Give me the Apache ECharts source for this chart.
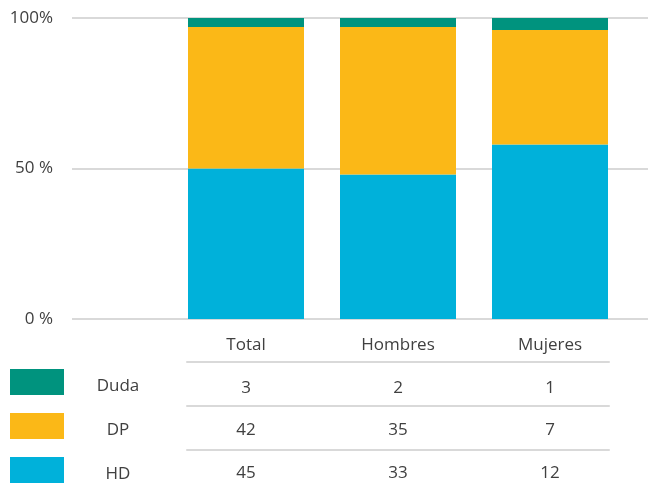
<!DOCTYPE html>
<html>
<head>
<meta charset="utf-8">
<script src="https://cdn.jsdelivr.net/npm/echarts@6/dist/echarts.min.js"></script>
<style>
  html, body { margin: 0; padding: 0; background: #fff; }
  #main { width: 648px; height: 490px; }
</style>
</head>
<body>
<div id="main"></div>
<script>
// categories and values
const cats = ['Total', 'Hombres', 'Mujeres'];
const seriesNames = ['Duda', 'DP', 'HD'];
// share of each group (%)
const hdPct = [50, 48, 58];
const dpPct = [47, 49, 38];
const dudaPct = [3, 3, 4];
// counts shown in the table under the bars
const dudaN = [3, 2, 1];
const dpN = [42, 35, 7];
const hdN = [45, 33, 12];
const yTicks = {0: '0 %', 50: '50 %', 100: '100%'};

const colors = {Duda: '#00937E', DP: '#FBB817', HD: '#00B1DA'};
const txt = '#404040';
const lineCol = '#D9D9D9';
const font = 'Open Sans';

const chart = echarts.init(document.getElementById('main'));

function rowAxis(offset, values) {
  return {
    type: 'category', gridIndex: 0, data: cats, position: 'bottom', offset: offset,
    axisLine: {show: false, onZero: false}, axisTick: {show: false},
    axisLabel: {
      margin: 18, fontSize: 17, color: txt, fontFamily: font,
      formatter: (v, i) => String(values[i])
    }
  };
}

function lineAxis(offset) {
  return {
    type: 'category', gridIndex: 1, data: cats, position: 'bottom', offset: offset,
    axisLine: {show: true, onZero: false, lineStyle: {color: lineCol, width: 2}},
    axisTick: {show: false}, axisLabel: {show: false}
  };
}

const option = {
  animation: false,
  backgroundColor: '#fff',
  textStyle: {fontFamily: font},
  legend: {
    data: seriesNames,
    orient: 'vertical',
    left: 10, top: 369,
    padding: 0,
    itemWidth: 54, itemHeight: 26, itemGap: 18,
    icon: 'rect',
    selectedMode: false,
    formatter: name => '{a|' + name + '}',
    textStyle: {
      fontSize: 17, color: txt, fontFamily: font,
      rich: {a: {width: 98, align: 'center', lineHeight: 26, verticalAlign: 'bottom',
                 fontSize: 17, color: txt, fontFamily: font}}
    }
  },
  grid: [
    {left: 170, right: 22, top: 18, bottom: 171},   // bars
    {left: 187, right: 39, top: 18, bottom: 171},   // table rules
    {left: 72, right: 0, top: 18, bottom: 171}      // gridlines + y labels
  ],
  xAxis: [
    {
      type: 'category', gridIndex: 0, data: cats,
      axisLine: {show: false}, axisTick: {show: false},
      axisLabel: {margin: 18, fontSize: 17, color: txt, fontFamily: font}
    },
    rowAxis(43, dudaN),
    rowAxis(85, dpN),
    rowAxis(128, hdN),
    lineAxis(43),
    lineAxis(87),
    lineAxis(131),
    {type: 'value', gridIndex: 2, min: 0, max: 1, show: false}
  ],
  yAxis: [
    {type: 'value', gridIndex: 0, min: 0, max: 100, show: false},
    {type: 'value', gridIndex: 1, min: 0, max: 100, show: false},
    {
      type: 'value', gridIndex: 2, min: 0, max: 100, interval: 50,
      axisLine: {show: false}, axisTick: {show: false},
      axisLabel: {margin: 19, fontSize: 17, color: txt, fontFamily: font, formatter: v => yTicks[v]},
      splitLine: {show: true, lineStyle: {color: lineCol, width: 2}}
    }
  ],
  series: [
    {name: 'HD', type: 'bar', stack: 'a', data: hdPct, barWidth: 116, itemStyle: {color: colors.HD}},
    {name: 'DP', type: 'bar', stack: 'a', data: dpPct, barWidth: 116, itemStyle: {color: colors.DP}},
    {name: 'Duda', type: 'bar', stack: 'a', data: dudaPct, barWidth: 116, itemStyle: {color: colors.Duda}}
  ]
};

chart.setOption(option);
</script>
</body>
</html>
